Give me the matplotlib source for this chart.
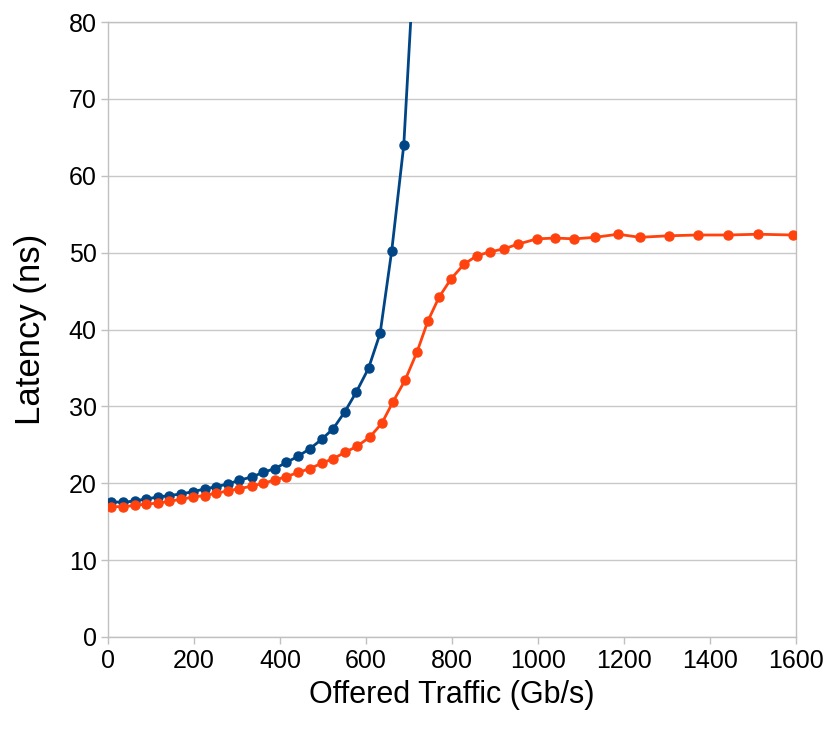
import matplotlib
matplotlib.use("Agg")
import matplotlib.pyplot as plt

plt.rcParams['font.family'] = ['Liberation Sans', 'DejaVu Sans']

# 데이터
blue_x = [8, 35, 62, 89, 116, 143, 170, 198, 225, 252, 279, 306, 334, 361,
          388, 415, 442, 470, 497, 524, 551, 578, 606, 633, 660, 688, 715]
blue_y = [17.6, 17.5, 17.7, 17.95, 18.2, 18.4, 18.6, 18.9, 19.25, 19.55, 19.9,
          20.4, 20.8, 21.4, 21.9, 22.7, 23.5, 24.5, 25.7, 27.1, 29.3, 31.9,
          34.95, 39.5, 50.25, 64.0, 91.0]

orange_x = [8, 35, 62, 89, 116, 143, 170, 198, 225, 252, 279, 306, 334, 361,
            388, 415, 442, 470, 497, 524, 551, 579, 609, 637, 663, 691, 719,
            744, 770, 798, 828, 858, 888, 921, 953, 998, 1040, 1085, 1133,
            1186, 1237, 1305, 1372, 1442, 1512, 1593]
orange_y = [16.95, 16.95, 17.1, 17.3, 17.4, 17.65, 17.9, 18.2, 18.4, 18.7,
            19.0, 19.3, 19.6, 20.0, 20.4, 20.85, 21.4, 21.9, 22.6, 23.2, 24.0,
            24.8, 26.0, 27.8, 30.6, 33.4, 37.1, 41.1, 44.2, 46.6, 48.5, 49.6,
            50.1, 50.5, 51.1, 51.8, 51.9, 51.8, 52.0, 52.4, 52.0, 52.2, 52.3,
            52.3, 52.4, 52.3]

x_ticks = [0, 200, 400, 600, 800, 1000, 1200, 1400, 1600]
y_ticks = [0, 10, 20, 30, 40, 50, 60, 70, 80]

fig = plt.figure(figsize=(8.3, 7.38), dpi=100)
ax = fig.add_axes([0.130, 0.137, 0.829, 0.833])

ax.plot(blue_x, blue_y, color='#004586', lw=2, marker='o', ms=6.5, zorder=3)
ax.plot(orange_x, orange_y, color='#ff420e', lw=2, marker='o', ms=6.5, zorder=3)

ax.set_xlim(0, 1600)
ax.set_ylim(0, 80)
ax.set_xticks(x_ticks)
ax.set_yticks(y_ticks)
ax.yaxis.grid(True, color='#c8c8c8', lw=1)
ax.set_axisbelow(True)
for s in ax.spines.values():
    s.set_color('#c0c0c0')
    s.set_linewidth(1)
ax.tick_params(axis='both', colors='#c0c0c0', labelcolor='black',
               labelsize=18, length=5, width=1, direction='out')
ax.tick_params(axis='x', pad=4)
ax.tick_params(axis='y', pad=3)

ax.set_xlabel('Offered Traffic (Gb/s)', fontsize=22, labelpad=5)
ax.set_ylabel('Latency (ns)', fontsize=25, labelpad=16)

fig.savefig('out.png', dpi=100)
